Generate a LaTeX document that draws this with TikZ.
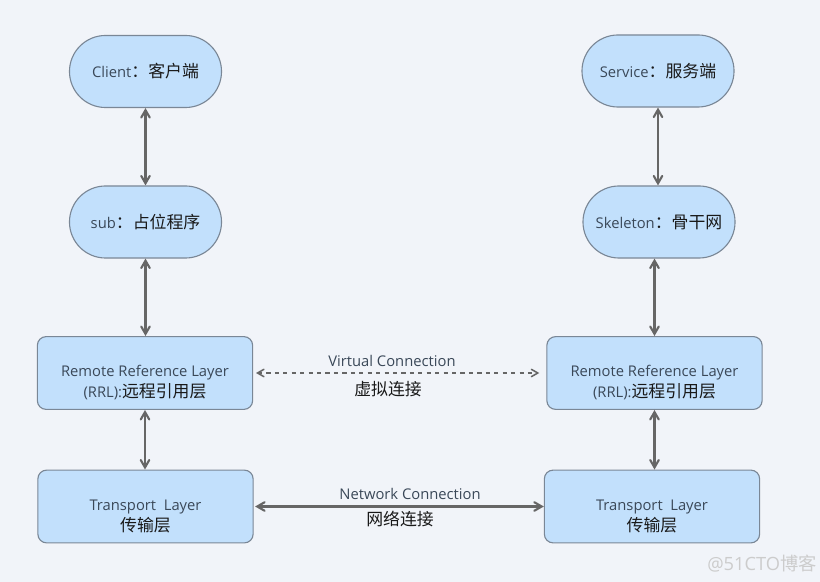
\documentclass[tikz,border=0pt]{standalone}
\usepackage{fontspec}
\setmainfont{Open Sans}
\newfontfamily\cjk{Noto Sans CJK SC}
\usepackage{tikz}
\usetikzlibrary{arrows}
\definecolor{bgcol}{HTML}{F1F4F9}
\definecolor{boxfill}{HTML}{C2E0FC}
\definecolor{boxline}{HTML}{7A8796}
\definecolor{entext}{HTML}{3A4858}
\definecolor{linkcol}{HTML}{666666}
\newcommand{\zh}[1]{{\cjk\color{black!90}\fontsize{12pt}{14pt}\selectfont #1}}
\newcommand{\lowstrut}{\rule{0pt}{22pt}}
\tikzset{
every node/.style={font=\fontsize{10.5pt}{15pt}\selectfont, text=entext, align=center},
endpoint/.style={draw=boxline, fill=boxfill, line width=0.8pt, rectangle,
  rounded corners=0.9cm, minimum width=3.8cm, minimum height=1.8cm},
layerbox/.style={draw=boxline, fill=boxfill, line width=0.8pt, rectangle,
  rounded corners=0.22cm, minimum width=5.38cm, minimum height=1.82cm},
link/.style={draw=linkcol, line width=1.5pt, angle 60-angle 60},
plain/.style={inner sep=0pt}
}

\begin{document}
\begin{tikzpicture}[x=0.025cm, y=-0.025cm]
\fill[bgcol] (0,0) rectangle (820,582);

\node[endpoint] (client) at (145.5,71.5) {Client\zh{：客户端}};
\node[endpoint] (sub) at (145.5,222) {sub\zh{：占位程序}};
\node[layerbox] (rrlL) at (145,373) {\lowstrut Remote Reference Layer\\(RRL):\zh{远程引用层}};
\node[layerbox] (trL) at (145.5,506.5) {\lowstrut Transport~~Layer\\\zh{传输层}};

\node[endpoint] (service) at (658,71) {Service\zh{：服务端}};
\node[endpoint] (skel) at (659,222) {Skeleton\zh{：骨干网}};
\node[layerbox] (rrlR) at (654.5,373) {\lowstrut Remote Reference Layer\\(RRL):\zh{远程引用层}};
\node[layerbox] (trR) at (652,506.5) {\lowstrut Transport~~Layer\\\zh{传输层}};

\draw[link] (client.south) -- (client.south |- sub.north);
\draw[link] (sub.south) -- (sub.south |- rrlL.north);
\draw[link] (rrlL.south) -- (rrlL.south |- trL.north);
\draw[link] (service.south) -- (service.south |- skel.north);
\draw[link] (rrlR.north |- skel.south) -- (rrlR.north);
\draw[link] (rrlR.south) -- (rrlR.south |- trR.north);

\draw[link, dashed, line width=1.1pt, shorten <=2pt, shorten >=5pt] (rrlL.east) -- (rrlR.west);
\draw[link, shorten <=1pt] (trL.east) -- (trR.west);

\node[plain] (vlabel) at (392,361) {Virtual Connection};
\node[plain] (vzh) at (388,389) {\zh{虚拟连接}};
\node[plain] (nlabel) at (410,494) {Network Connection};
\node[plain] (nzh) at (400,519) {\zh{网络连接}};

\node[plain, text=black!20, font=\fontsize{13pt}{15pt}\selectfont] (mark) at (762,564) {@51CTO\cjk 博客};
\end{tikzpicture}
\end{document}
